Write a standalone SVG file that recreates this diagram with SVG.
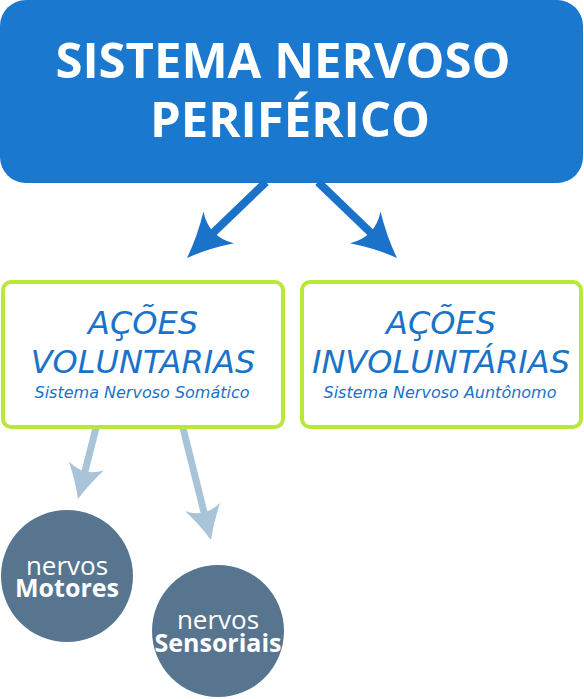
<svg xmlns="http://www.w3.org/2000/svg" width="584" height="699" viewBox="0 0 584 699">
<style>
.title{font-family:"Open Sans","Noto Sans",sans-serif;font-weight:bold;font-size:49px;fill:#fff;text-anchor:middle}
.big{font-family:"DejaVu Sans","Noto Sans",sans-serif;font-style:italic;font-size:32px;fill:#1a73c8;text-anchor:middle}
.sub{font-family:"DejaVu Sans","Noto Sans",sans-serif;font-style:italic;font-size:16px;fill:#1a73c8;text-anchor:middle}
.box{fill:#fff;stroke:#b9e83a;stroke-width:4}
.circ{fill:#587590}
.nv{font-family:"Open Sans","Noto Sans",sans-serif;font-size:26px;fill:#fff;text-anchor:middle}
.nb{font-family:"Open Sans","Noto Sans",sans-serif;font-weight:bold;font-size:25px;fill:#fff;text-anchor:middle}
.a1{stroke:#1a73c8;stroke-width:8;fill:none}
.a2{stroke:#a9c3d8;stroke-width:7;fill:none}
</style>
<defs>
<marker id="mb" markerUnits="userSpaceOnUse" viewBox="0 0 44 44" refX="24" refY="22" markerWidth="44" markerHeight="44" orient="auto" overflow="visible">
<path d="M44 22 Q22 14 0 0 Q14 22 0 44 Q22 30 44 22 Z" fill="#1a73c8"/>
</marker>
<marker id="ml" markerUnits="userSpaceOnUse" viewBox="0 0 34 36" refX="14" refY="18" markerWidth="34" markerHeight="36" orient="auto" overflow="visible">
<path d="M34 18 Q17 11 0 0 Q11 18 0 36 Q17 25 34 18 Z" fill="#a9c3d8"/>
</marker>
</defs>
<g id="top">
<rect x="0" y="0" width="583" height="183" rx="26" fill="#1a78ce"/>
<text class="title" x="283" y="78">SISTEMA NERVOSO</text>
<text class="title" x="290" y="137">PERIFÉRICO</text>
</g>
<g id="connectors">
<line class="a1" x1="266" y1="182" x2="201.4" y2="244.1" marker-end="url(#mb)"/>
<line class="a1" x1="318" y1="182" x2="382.6" y2="244.1" marker-end="url(#mb)"/>
<line class="a2" x1="96" y1="428" x2="82.9" y2="479.6" marker-end="url(#ml)"/>
<line class="a2" x1="183" y1="428" x2="206.1" y2="520.6" marker-end="url(#ml)"/>
</g>
<g id="voluntarias">
<rect class="box" x="3" y="282" width="280" height="145" rx="8"/>
<text class="big" x="143" y="334">AÇÕES</text>
<text class="big" x="143" y="373">VOLUNTARIAS</text>
<text class="sub" x="142" y="398">Sistema Nervoso Somático</text>
</g>
<g id="involuntarias">
<rect class="box" x="302" y="282" width="279" height="145" rx="8"/>
<text class="big" x="441" y="334">AÇÕES</text>
<text class="big" x="441" y="373">INVOLUNTÁRIAS</text>
<text class="sub" x="440" y="398">Sistema Nervoso Auntônomo</text>
</g>
<g id="motores">
<circle class="circ" cx="67" cy="576" r="66"/>
<text class="nv" x="67" y="575">nervos</text>
<text class="nb" x="67" y="597">Motores</text>
</g>
<g id="sensoriais">
<circle class="circ" cx="218" cy="631" r="66"/>
<text class="nv" x="218" y="629">nervos</text>
<text class="nb" x="218" y="652">Sensoriais</text>
</g>
</svg>
